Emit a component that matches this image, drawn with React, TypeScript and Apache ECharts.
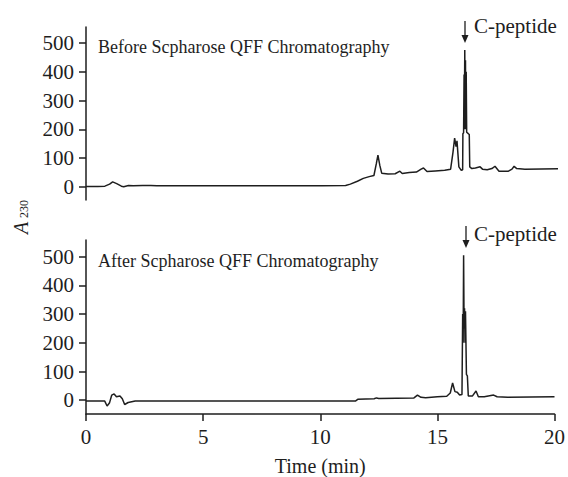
import React, { useEffect, useRef } from "react";
import * as echarts from "echarts";

// Top panel: before Sepharose QFF chromatography
const beforeTime = [0, 0.5, 0.8, 1.0, 1.13, 1.3, 1.5, 1.6, 1.8, 2.0, 2.4, 2.75, 3, 6, 8, 10, 11.0, 11.2, 11.5, 11.75, 12.0, 12.2, 12.3, 12.37, 12.45, 12.53, 12.8, 13.1, 13.3, 13.4, 13.7, 14.0, 14.2, 14.3, 14.45, 14.8, 15.2, 15.45, 15.55, 15.62, 15.68, 15.72, 15.8, 15.9, 15.96, 15.97, 16.0, 16.02, 16.03, 16.05, 16.06, 16.08, 16.09, 16.11, 16.13, 16.2, 16.24, 16.26, 16.35, 16.5, 16.7, 16.8, 17.0, 17.2, 17.33, 17.5, 17.9, 18.05, 18.14, 18.25, 18.6, 20];
const beforeAbs = [2, 2, 3, 10, 18, 12, 3, 1, 5, 4, 5, 5, 4, 4, 4, 4, 5, 10, 20, 30, 36, 40, 80, 111, 75, 48, 45, 46, 55, 47, 50, 52, 62, 66, 54, 56, 58, 62, 120, 170, 140, 160, 70, 58, 60, 185, 188, 390, 200, 475, 210, 440, 200, 400, 190, 185, 182, 70, 64, 66, 70, 62, 60, 64, 72, 55, 55, 62, 72, 64, 62, 63];

// Bottom panel: after Sepharose QFF chromatography
const afterTime = [0, 0.8, 0.9, 1.0, 1.1, 1.2, 1.3, 1.45, 1.55, 1.65, 1.8, 2.1, 2.5, 11.5, 11.6, 12.3, 12.4, 12.5, 14.0, 14.15, 14.3, 14.5, 15.0, 15.4, 15.55, 15.65, 15.75, 15.85, 15.95, 16.05, 16.08, 16.1, 16.12, 16.14, 16.16, 16.18, 16.2, 16.24, 16.28, 16.32, 16.5, 16.65, 16.75, 17.0, 17.4, 17.55, 18.0, 20];
const afterAbs = [-3, -3, -20, -10, 18, 22, 12, 15, 5, -15, -8, -3, -3, -3, 3, 5, 8, 6, 8, 18, 10, 9, 12, 14, 25, 60, 30, 28, 18, 20, 300, 200, 505, 250, 320, 200, 310, 90, 85, 15, 15, 32, 12, 12, 18, 12, 10, 12];

const yTicks = [0, 100, 200, 300, 400, 500];
const panelTitles = ["Before Scpharose QFF Chromatography", "After Scpharose QFF Chromatography"];
const peakLabel = "C-peptide";

const FONT = "Liberation Serif";
const INK = "#1e1e1e";

function pairs(t: number[], v: number[]) {
  return t.map((x, i) => [x, v[i]]);
}

function yAxisFor(gridIndex: number, min: number, max: number) {
  return {
    type: "value",
    gridIndex,
    min,
    max,
    axisLine: { show: true, lineStyle: { color: INK, width: 1.5 } },
    axisTick: { show: true, length: 7, lineStyle: { color: INK, width: 1.5 }, customValues: yTicks },
    axisLabel: { customValues: yTicks, fontSize: 21, fontFamily: FONT, color: INK, margin: 12 },
    splitLine: { show: false },
  };
}

function arrow(x: number, y1: number, y2: number) {
  return [
    { type: "line", shape: { x1: x, y1, x2: x, y2: y2 - 6 }, style: { stroke: INK, lineWidth: 1.3 } },
    { type: "polygon", shape: { points: [[x - 3.5, y2 - 8], [x + 3.5, y2 - 8], [x, y2]] }, style: { fill: INK } },
  ];
}

function txt(left: number, top: number, text: string, size: number) {
  return {
    type: "text",
    left,
    top,
    style: { text, fontSize: size, fontFamily: FONT, fill: INK },
  };
}

export default function App() {
  const ref = useRef<HTMLDivElement>(null);
  useEffect(() => {
    if (!ref.current) return;
    const chart = echarts.init(ref.current, undefined, { renderer: "svg" });
    chart.setOption({
      animation: false,
      backgroundColor: "#ffffff",
      textStyle: { fontFamily: FONT },
      grid: [
        { left: 86, right: 10, top: 27, height: 173 },
        { left: 86, right: 10, top: 240, height: 175 },
      ],
      xAxis: [
        { type: "value", gridIndex: 0, min: 0, max: 20, interval: 5, show: false },
        {
          type: "value",
          gridIndex: 1,
          min: 0,
          max: 20,
          interval: 5,
          name: "Time (min)",
          nameLocation: "middle",
          nameGap: 42,
          nameTextStyle: { fontSize: 20, fontFamily: FONT, color: INK },
          axisLine: { show: true, onZero: false, lineStyle: { color: INK, width: 1.5 } },
          axisTick: { show: true, length: 7, lineStyle: { color: INK, width: 1.5 } },
          axisLabel: { fontSize: 21, fontFamily: FONT, color: INK, margin: 12 },
          splitLine: { show: false },
        },
      ],
      yAxis: [yAxisFor(0, -45, 555), yAxisFor(1, -48, 558)],
      series: [
        {
          type: "line",
          xAxisIndex: 0,
          yAxisIndex: 0,
          data: pairs(beforeTime, beforeAbs),
          showSymbol: false,
          symbol: "none",
          lineStyle: { color: INK, width: 1.5 },
        },
        {
          type: "line",
          xAxisIndex: 1,
          yAxisIndex: 1,
          data: pairs(afterTime, afterAbs),
          showSymbol: false,
          symbol: "none",
          lineStyle: { color: INK, width: 1.5 },
        },
      ],
      graphic: [
        txt(98, 38, panelTitles[0], 18),
        txt(98, 252, panelTitles[1], 18),
        txt(474, 15, peakLabel, 21),
        txt(474, 223, peakLabel, 21),
        ...arrow(465, 21, 43),
        ...arrow(466, 226, 248),
        {
          type: "text",
          x: 21,
          y: 228,
          rotation: Math.PI / 2,
          style: { text: "A", fontSize: 20, fontStyle: "italic", fontFamily: FONT, fill: INK, align: "center", verticalAlign: "middle" },
        },
        {
          type: "text",
          x: 24,
          y: 209,
          rotation: Math.PI / 2,
          style: { text: "230", fontSize: 12, fontFamily: FONT, fill: INK, align: "center", verticalAlign: "middle" },
        },
      ],
    });
    return () => chart.dispose();
  }, []);
  return <div ref={ref} style={{ position: "fixed", left: 0, top: 0, width: 568, height: 477 }} />;
}
